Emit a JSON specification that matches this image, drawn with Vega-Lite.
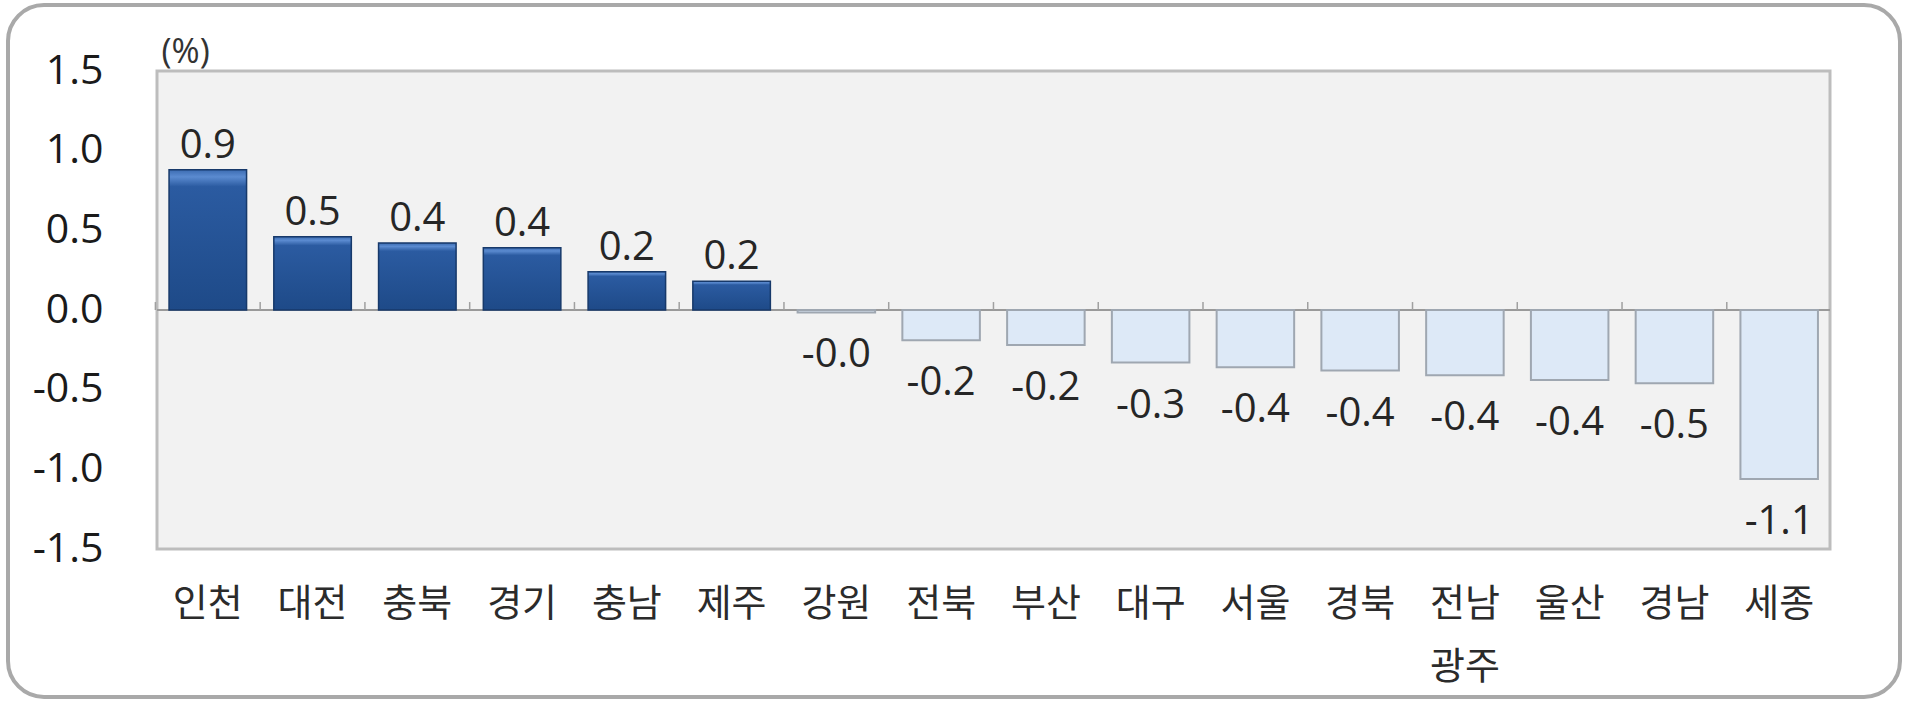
{
  "$schema": "https://vega.github.io/schema/vega-lite/v6.json",
  "width": 1892,
  "height": 692,
  "autosize": {"type": "none"},
  "padding": {"left": 8, "top": 5, "right": 20, "bottom": 18},
  "background": "white",
  "config": {
    "font": "Noto Sans CJK KR",
    "view": {"stroke": "#a9a9a9", "strokeWidth": 4, "cornerRadius": 36, "fill": "white"}
  },
  "datasets": {
    "regions": [
      {"region": "인천", "value": 0.88, "label": "0.9"},
      {"region": "대전", "value": 0.46, "label": "0.5"},
      {"region": "충북", "value": 0.42, "label": "0.4"},
      {"region": "경기", "value": 0.39, "label": "0.4"},
      {"region": "충남", "value": 0.24, "label": "0.2"},
      {"region": "제주", "value": 0.18, "label": "0.2"},
      {"region": "강원", "value": -0.015, "label": "-0.0"},
      {"region": "전북", "value": -0.19, "label": "-0.2"},
      {"region": "부산", "value": -0.22, "label": "-0.2"},
      {"region": "대구", "value": -0.33, "label": "-0.3"},
      {"region": "서울", "value": -0.36, "label": "-0.4"},
      {"region": "경북", "value": -0.38, "label": "-0.4"},
      {"region": "전남 광주", "value": -0.41, "label": "-0.4"},
      {"region": "울산", "value": -0.44, "label": "-0.4"},
      {"region": "경남", "value": -0.46, "label": "-0.5"},
      {"region": "세종", "value": -1.06, "label": "-1.1"}
    ],
    "plotArea": [{"start": 0, "end": 1}]
  },
  "resolve": {"scale": {"x": "independent"}},
  "layer": [
    {
      "data": {"name": "plotArea"},
      "encoding": {
        "x": {
          "field": "start",
          "type": "quantitative",
          "scale": {"domain": [0, 1], "range": [149, 1822]},
          "axis": null
        },
        "x2": {"field": "end"}
      },
      "layer": [
        {
          "mark": {"type": "rect", "fill": "#f2f2f2", "stroke": "#bdbdbd", "strokeWidth": 3},
          "encoding": {
            "y": {"datum": -1.5, "type": "quantitative", "title": "(%)"},
            "y2": {"datum": 1.5}
          }
        },
        {
          "mark": {"type": "rule", "color": "#9a9a9a", "strokeWidth": 2},
          "encoding": {
            "y": {"datum": 0, "type": "quantitative", "title": "(%)"}
          }
        }
      ]
    },
    {
      "data": {"name": "regions"},
      "encoding": {
        "x": {
          "field": "region",
          "type": "nominal",
          "sort": null,
          "scale": {"range": [149, 1822], "paddingInner": 0.26, "paddingOuter": 0.115},
          "axis": {
            "orient": "bottom",
            "offset": -148,
            "domain": false,
            "ticks": false,
            "labelAngle": 0,
            "labelBaseline": "top",
            "labelPadding": 36,
            "labelFontSize": 38,
            "labelColor": "#2b2b2b",
            "labelLineHeight": 63,
            "labelExpr": "split(datum.label, ' ')",
            "title": null
          }
        },
        "y": {
          "field": "value",
          "type": "quantitative",
          "title": "(%)",
          "scale": {"domain": [-1.5, 1.5], "range": [544, 66], "nice": false},
          "axis": {
            "orient": "left",
            "offset": -149,
            "domain": false,
            "ticks": true,
            "tickSize": -7,
            "tickColor": "#a0a0a0",
            "grid": false,
            "values": [-1.5, -1, -0.5, 0, 0.5, 1, 1.5],
            "labelExpr": "replace(format(datum.value, '.1f'), '\u2212', '-')",
            "labelFont": "Open Sans",
            "labelFontSize": 41,
            "labelColor": "#1a1a1a",
            "labelPadding": 61,
            "titleAngle": 0,
            "titleAlign": "left",
            "titleBaseline": "alphabetic",
            "titleX": 4,
            "titleY": 57,
            "titleFont": "Open Sans",
            "titleFontSize": 34,
            "titleFontWeight": "normal",
            "titleColor": "#333333"
          }
        }
      },
      "layer": [
        {
          "mark": {"type": "rule", "color": "#a0a0a0", "strokeWidth": 1.5},
          "encoding": {
            "x": {"field": "region", "type": "nominal", "sort": null, "bandPosition": -0.176},
            "y": {"datum": 0, "type": "quantitative"},
            "y2": {"datum": 0.05}
          }
        },
        {
          "transform": [{"filter": "datum.value > 0"}],
          "mark": {
            "type": "bar",
            "stroke": "#17396a",
            "strokeWidth": 1.5,
            "color": {
              "gradient": "linear",
              "x1": 0, "y1": 0, "x2": 0, "y2": 1,
              "stops": [
                {"offset": 0, "color": "#3c6cb2"},
                {"offset": 0.05, "color": "#5b8bd0"},
                {"offset": 0.12, "color": "#2b5ba1"},
                {"offset": 1, "color": "#1e4a88"}
              ]
            }
          }
        },
        {
          "transform": [{"filter": "datum.value <= 0"}],
          "mark": {"type": "bar", "color": "#dde9f7", "stroke": "#9fa7b1", "strokeWidth": 2}
        },
        {
          "transform": [{"filter": "datum.value > 0"}],
          "mark": {"type": "text", "baseline": "alphabetic", "dy": -12, "font": "Open Sans", "fontSize": 40, "color": "#262626"},
          "encoding": {"text": {"field": "label", "type": "nominal"}}
        },
        {
          "transform": [{"filter": "datum.value <= 0"}],
          "mark": {"type": "text", "baseline": "alphabetic", "dy": 55, "font": "Open Sans", "fontSize": 40, "color": "#262626"},
          "encoding": {"text": {"field": "label", "type": "nominal"}}
        }
      ]
    }
  ]
}
